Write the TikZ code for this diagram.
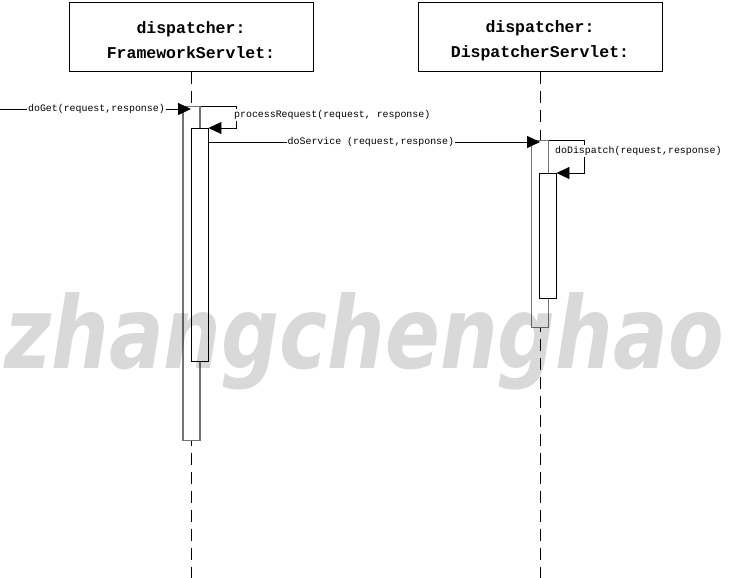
\documentclass[tikz,border=0pt]{standalone}
\usepackage{fontspec}
\setmonofont{Liberation Mono}
\newfontfamily\marcafont{DejaVu Sans}
\usetikzlibrary{arrows.meta}
\tikzset{
  objeto/.style={draw,line width=1pt,minimum width=244pt,minimum height=69pt,align=center,
    font=\ttfamily\bfseries\fontsize{16.5}{25}\selectfont},
  vida/.style={line width=1pt,dash pattern=on 12pt off 7pt},
  activa/.style={draw=black!55,fill=white,line width=1.2pt,minimum width=17pt,anchor=north,inner sep=0pt},
  activa2/.style={activa,draw=black,line width=0.9pt},
  msg/.style={line width=0.8pt,-{Triangle[length=13pt,width=12pt]}},
  etiq/.style={fill=white,inner sep=1pt,font=\ttfamily\fontsize{9.9}{12}\selectfont},
}
\begin{document}
\begin{tikzpicture}[x=1pt,y=-1pt]
\useasboundingbox (0,0) rectangle (729,578);
% Objetos
\node[objeto] (fw) at (191,37.5) {\strut dispatcher:\\FrameworkServlet:};
\node[objeto] (ds) at (540,37.5) {\strut dispatcher:\\DispatcherServlet:};
\draw[vida] (fw.south) -- (fw.south |- 0,578);
\draw[vida] (ds.south) -- (ds.south |- 0,578);
% Activaciones
\node[activa,minimum height=334pt] (fwA) at (191.5,106) {};
\node[activa2,minimum height=233pt] (fwB) at (199.5,128) {};
\node[activa,minimum height=187pt] (dsA) at (540,140) {};
\node[activa2,minimum height=125pt] (dsB) at (547.5,173) {};
% Mensajes
\coordinate (llamada) at (0,109);
\draw[msg] (llamada) -- (llamada -| fw.south) node[pos=.505,etiq] {doGet(request,response)};
\draw[msg] (fwA.north east) -- ++(36,0) |- (fwB.north east);
\node[etiq,anchor=west] (proc) at (233,115) {processRequest(request, response)};
\coordinate (svc) at ([yshift=-14pt]fwB.north east);
\draw[msg] (svc) -- (svc -| ds.south) node[pos=.49,etiq] {doService (request,response)};
\draw[msg] (dsA.north east) -- ++(35,0) |- (dsB.north east);
\node[etiq,anchor=west] (disp) at (554,151) {doDispatch(request,response)};
% Marca
\node[text=black,text opacity=.15,anchor=base,inner sep=0pt,
  font=\marcafont\bfseries\itshape\fontsize{100}{100}\selectfont] (marca) at (364,368)
  {\scalebox{0.81}[1]{zhangchenghao}};
\end{tikzpicture}
\end{document}
